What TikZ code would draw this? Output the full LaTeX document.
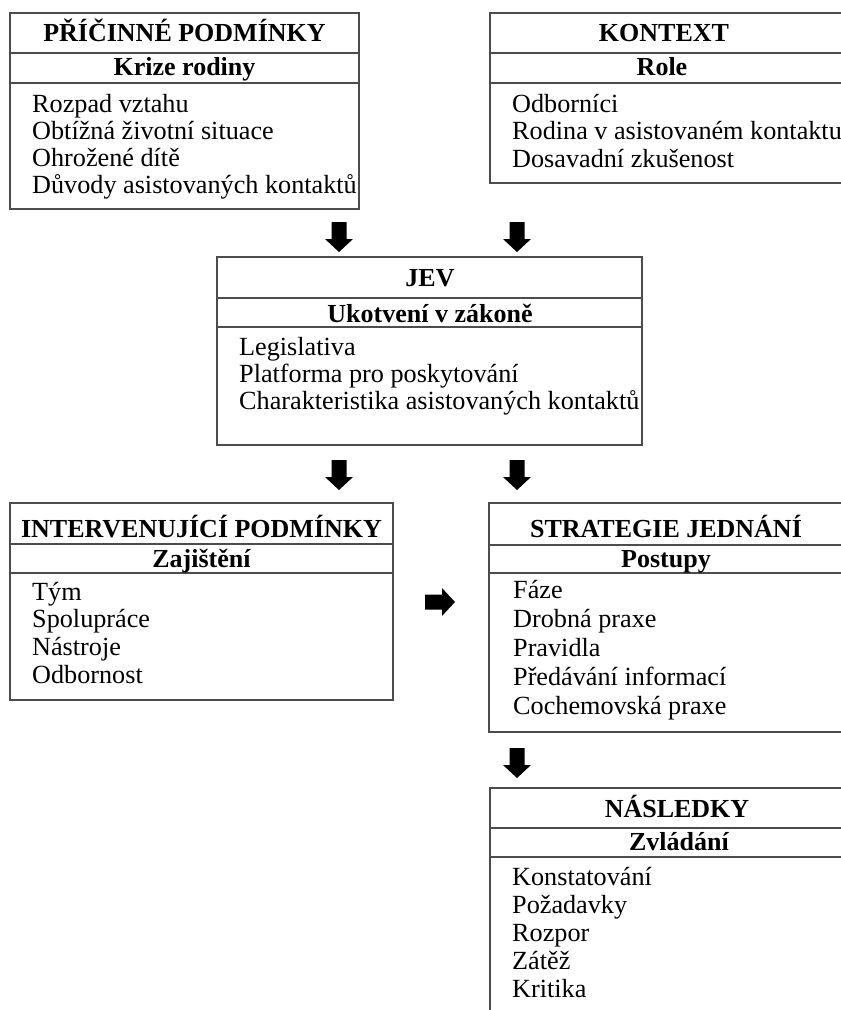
\documentclass[tikz,border=0pt]{standalone}
\usepackage{fontspec}
\setmainfont{Liberation Serif}
\begin{document}
\begin{tikzpicture}[x=1pt,y=-1pt,
  frame/.style={draw=black!70, line width=1.4pt},
  divider/.style={draw=black!70, line width=1.4pt},
  ttl/.style={font=\fontsize{26}{28}\selectfont\bfseries, inner sep=0pt, anchor=base},
  item/.style={font=\fontsize{26.2}{28}\selectfont, inner sep=0pt, anchor=base west},
  downarrow/.pic={\fill[black] (-7.5,0) -- (7.5,0) -- (7.5,17) -- (14,17) -- (0,30) -- (-14,17) -- (-7.5,17) -- cycle;}
]
\path[use as bounding box, clip] (0,0) rectangle (841,1010);
\fill[white] (0,0) rectangle (841,1010);

% ---- PŘÍČINNÉ PODMÍNKY
\draw[frame] (10,13) rectangle (359,209);
\draw[divider] (10,53) -- (359,53);
\draw[divider] (10,83) -- (359,83);
\node[ttl] (ppT) at (184.5,41) {PŘÍČINNÉ PODMÍNKY};
\node[ttl] (ppS) at (184.5,75) {Krize rodiny};
\foreach \t [count=\i] in {Rozpad vztahu, Obtížná životní situace, Ohrožené dítě, Důvody asistovaných kontaktů}
  \node[item] (pp-\i) at (32,{112+27.3*(\i-1)}) {\t};

% ---- KONTEXT
\draw[frame] (490,13) rectangle (845,183);
\draw[divider] (490,53) -- (845,53);
\draw[divider] (490,83) -- (845,83);
\node[ttl] (kxT) at (664,41) {KONTEXT};
\node[ttl] (kxS) at (662,75) {Role};
\foreach \t [count=\i] in {Odborníci, Rodina v asistovaném kontaktu, Dosavadní zkušenost}
  \node[item] (kx-\i) at (512,{112+27.5*(\i-1)}) {\t};

% ---- JEV
\draw[frame] (217,257) rectangle (642,445);
\draw[divider] (217,298) -- (642,298);
\draw[divider] (217,327) -- (642,327);
\node[ttl] (jvT) at (430,286) {JEV};
\node[ttl] (jvS) at (430,322) {Ukotvení v zákoně};
\foreach \t [count=\i] in {Legislativa, Platforma pro poskytování, Charakteristika asistovaných kontaktů}
  \node[item] (jv-\i) at (239,{355+27*(\i-1)}) {\t};

% ---- INTERVENUJÍCÍ PODMÍNKY
\draw[frame] (10,503) rectangle (393,700);
\draw[divider] (10,544) -- (393,544);
\draw[divider] (10,573) -- (393,573);
\node[ttl] (ipT) at (201.5,537) {INTERVENUJÍCÍ PODMÍNKY};
\node[ttl] (ipS) at (201.5,567) {Zajištění};
\foreach \t [count=\i] in {Tým, Spolupráce, Nástroje, Odbornost}
  \node[item] (ip-\i) at (32,{600+27.7*(\i-1)}) {\t};

% ---- STRATEGIE JEDNÁNÍ
\draw[frame] (489,503) rectangle (843,732);
\draw[divider] (489,545) -- (843,545);
\draw[divider] (489,573) -- (843,573);
\node[ttl] (sjT) at (666,537) {STRATEGIE JEDNÁNÍ};
\node[ttl] (sjS) at (666,567) {Postupy};
\foreach \t [count=\i] in {Fáze, Drobná praxe, Pravidla, Předávání informací, Cochemovská praxe}
  \node[item] (sj-\i) at (513,{598+29.2*(\i-1)}) {\t};

% ---- NÁSLEDKY
\draw[frame] (490,788) rectangle (864,1040);
\draw[divider] (490,828) -- (864,828);
\draw[divider] (490,857) -- (864,857);
\node[ttl] (nsT) at (677,817) {NÁSLEDKY};
\node[ttl] (nsS) at (679,850) {Zvládání};
\foreach \t [count=\i] in {Konstatování, Požadavky, Rozpor, Zátěž, Kritika}
  \node[item] (ns-\i) at (512,{885+28.2*(\i-1)}) {\t};

% ---- arrows
\pic (a1) at (339,222) {downarrow};
\pic (a2) at (517,222) {downarrow};
\pic (a3) at (339,460) {downarrow};
\pic (a4) at (517,460) {downarrow};
\pic (a5) at (517,748) {downarrow};
\pic[rotate=90] (a6) at (425,602) {downarrow};
\end{tikzpicture}
\end{document}
